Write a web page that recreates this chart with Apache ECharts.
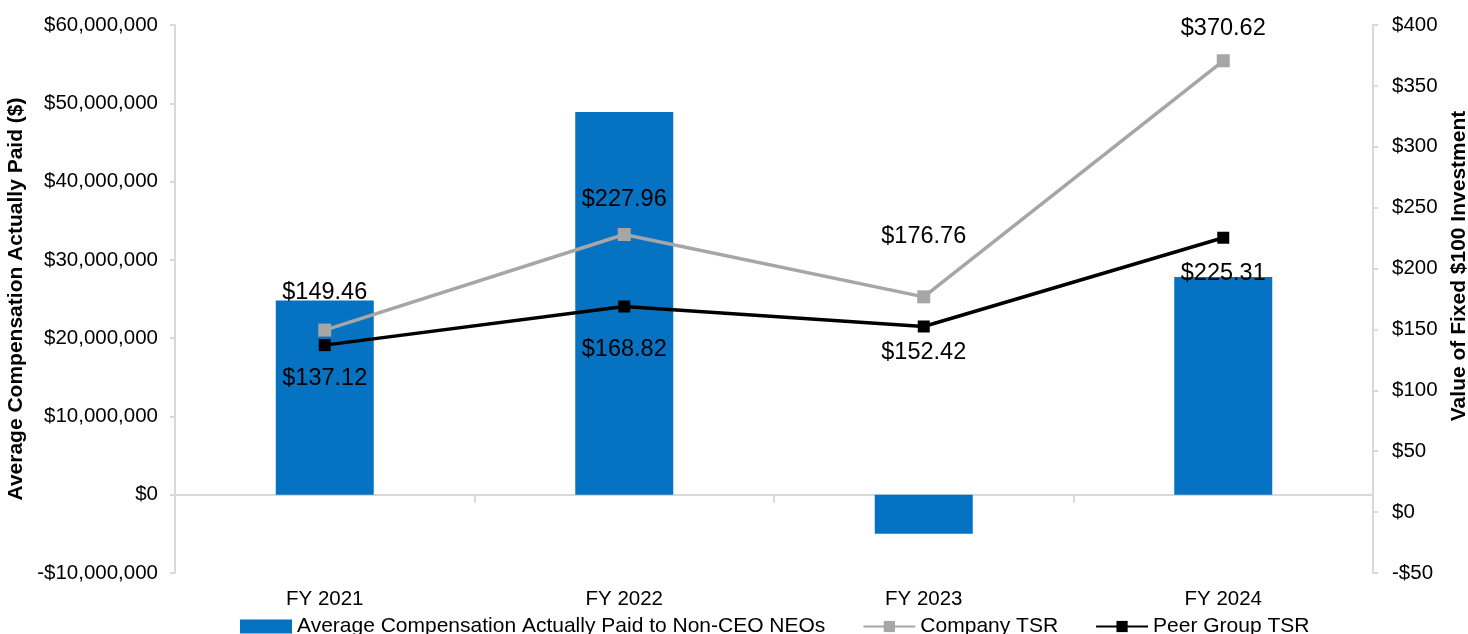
<!DOCTYPE html>
<html>
<head>
<meta charset="utf-8">
<script src="https://cdn.jsdelivr.net/npm/echarts@6/dist/echarts.min.js"></script>
<style>
html,body{margin:0;padding:0;background:#fff;overflow:hidden;width:1468px;height:634px;}
#chart{width:1468px;height:634px;}
</style>
</head>
<body>
<div id="chart"></div>
<script>
// ---- data ----
const categories = ['FY 2021', 'FY 2022', 'FY 2023', 'FY 2024'];
const avgCompActuallyPaid = [24800000, 48900000, -5000000, 27800000];
const companyTSR = [149.46, 227.96, 176.76, 370.62];
const peerGroupTSR = [137.12, 168.82, 152.42, 225.31];
const leftTicks = { min: -10000000, max: 60000000, interval: 10000000 };
const rightTicks = { min: -50, max: 400, interval: 50 };
const seriesNames = ['Average Compensation Actually Paid to Non-CEO NEOs', 'Company TSR', 'Peer Group TSR'];

// ---- style (label distances per point) ----
const companyLabelGap = [19, 16, 42, 14];
const peerLabelGap = [15, 25, 8, 18];

const FONT = '"Liberation Sans", Arial, Helvetica, sans-serif';
const AXIS_GRAY = '#d9d9d9';

function money(v) {
  return (v < 0 ? '-' : '') + '$' + Math.abs(v).toLocaleString('en-US');
}
function tsrLabel(p) { return '$' + Number(p.value).toFixed(2); }

const chart = echarts.init(document.getElementById('chart'), null, { renderer: 'canvas', width: 1468, height: 634 });

const option = {
  animation: false,
  backgroundColor: '#ffffff',
  textStyle: { fontFamily: FONT },
  grid: { left: 175, right: 95, top: 25, bottom: 61, containLabel: false, outerBoundsMode: 'none' },
  legend: {
    left: 235,
    top: 611,
    itemWidth: 52,
    itemHeight: 14,
    itemGap: 37,
    textStyle: { fontFamily: FONT, fontSize: 21, color: '#000' },
    data: [
      { name: seriesNames[0], icon: 'rect' },
      { name: seriesNames[1] },
      { name: seriesNames[2] }
    ]
  },
  xAxis: [
    {
      type: 'category',
      data: categories,
      position: 'bottom',
      axisLine: { show: true, onZero: true, onZeroAxisIndex: 0, lineStyle: { color: AXIS_GRAY, width: 2 } },
      axisTick: { show: true, length: 8, lineStyle: { color: AXIS_GRAY, width: 2 } },
      axisLabel: { show: false },
      splitLine: { show: false }
    },
    {
      type: 'category',
      data: categories,
      position: 'bottom',
      axisLine: { show: false, onZero: false },
      axisTick: { show: false },
      axisLabel: { show: true, margin: 16, fontFamily: FONT, fontSize: 20.5, color: '#000' },
      splitLine: { show: false }
    }
  ],
  yAxis: [
    {
      type: 'value',
      position: 'left',
      min: leftTicks.min,
      max: leftTicks.max,
      interval: leftTicks.interval,
      name: 'Average Compensation Actually Paid ($)',
      nameLocation: 'middle',
      nameGap: 141,
      nameTextStyle: { fontFamily: FONT, fontSize: 21, fontWeight: 'bold', color: '#000' },
      axisLine: { show: true, lineStyle: { color: AXIS_GRAY, width: 2 } },
      axisTick: { show: true, length: 5, lineStyle: { color: AXIS_GRAY, width: 2 } },
      axisLabel: { margin: 17, fontFamily: FONT, fontSize: 20.5, color: '#000', formatter: money },
      splitLine: { show: false }
    },
    {
      type: 'value',
      position: 'right',
      min: rightTicks.min,
      max: rightTicks.max,
      interval: rightTicks.interval,
      name: 'Value of Fixed $100 Investment',
      nameLocation: 'middle',
      nameGap: 76,
      nameTextStyle: { fontFamily: FONT, fontSize: 21, fontWeight: 'bold', color: '#000', padding: [0, 0, 0, 66] },
      axisLine: { show: true, lineStyle: { color: AXIS_GRAY, width: 2 } },
      axisTick: { show: true, length: 5, lineStyle: { color: AXIS_GRAY, width: 2 } },
      axisLabel: { margin: 19, fontFamily: FONT, fontSize: 20.5, color: '#000', formatter: money },
      splitLine: { show: false }
    }
  ],
  series: [
    {
      name: seriesNames[0],
      type: 'bar',
      xAxisIndex: 0,
      yAxisIndex: 0,
      barWidth: 98,
      itemStyle: { color: '#0573c2' },
      data: avgCompActuallyPaid,
      z: 1
    },
    {
      name: seriesNames[1],
      type: 'line',
      xAxisIndex: 0,
      yAxisIndex: 1,
      symbol: 'rect',
      symbolSize: 13,
      lineStyle: { color: '#a6a6a6', width: 3.5 },
      itemStyle: { color: '#a6a6a6' },
      data: companyTSR.map((v, i) => ({
        value: v,
        label: { show: true, position: 'top', distance: companyLabelGap[i] }
      })),
      label: { show: true, formatter: tsrLabel, fontFamily: FONT, fontSize: 23.5, color: '#000' },
      z: 3
    },
    {
      name: seriesNames[2],
      type: 'line',
      xAxisIndex: 0,
      yAxisIndex: 1,
      symbol: 'rect',
      symbolSize: 12,
      lineStyle: { color: '#000000', width: 3.5 },
      itemStyle: { color: '#000000' },
      data: peerGroupTSR.map((v, i) => ({
        value: v,
        label: { show: true, position: 'bottom', distance: peerLabelGap[i] }
      })),
      label: { show: true, formatter: tsrLabel, fontFamily: FONT, fontSize: 23.5, color: '#000' },
      z: 4
    }
  ]
};

chart.setOption(option);
</script>
</body>
</html>
